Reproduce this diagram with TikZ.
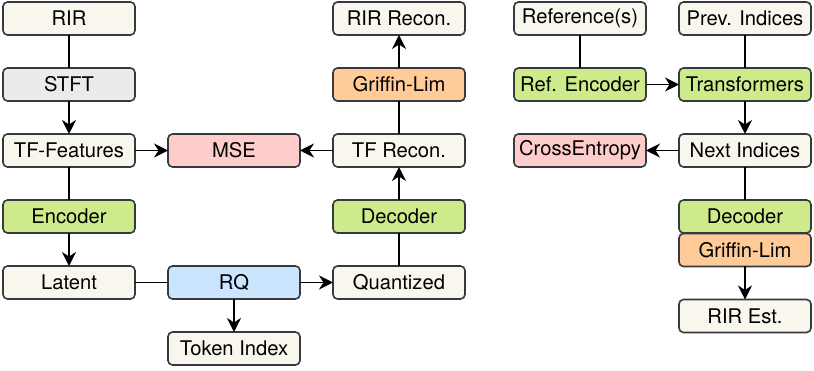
\documentclass[tikz,border=0pt]{standalone}
\usepackage{fontspec}
\setmainfont{TeX Gyre Heros}
\usepackage{xcolor}
\usepackage{tikz}
\usetikzlibrary{positioning,arrows.meta}
\definecolor{edgec}{HTML}{36393D}
\definecolor{cream}{HTML}{F9F7ED}
\definecolor{greyc}{HTML}{EBEBEB}
\definecolor{greenc}{HTML}{CDEB8B}
\definecolor{pinkc}{HTML}{FFCCCC}
\definecolor{orangec}{HTML}{FFCC99}
\definecolor{bluec}{HTML}{CCE5FF}
\tikzset{
  block/.style={rectangle, draw=edgec, fill=cream, rounded corners=4.5pt, line width=1.6pt,
                minimum height=33pt, minimum width=132pt, inner sep=0pt, outer sep=0pt,
                align=center, font=\fontsize{20.2}{22}\selectfont},
  net/.style={block, fill=greenc},
  loss/.style={block, fill=pinkc},
  gl/.style={block, fill=orangec},
  arr/.style={-{Stealth[length=14pt, width=14pt, inset=4.5pt]}, line width=1.7pt, draw=black},
  ln/.style={line width=1.7pt, draw=black},
}

\begin{document}
\begin{tikzpicture}[node distance=33pt and 33pt]
    \useasboundingbox (0,0) rectangle (814pt,-371pt);
    %% --- codec: analysis ---
    \node[block] (rir) at (69pt,-18.5pt) {RIR};
    \node[block, fill=greyc, below=of rir] (stft) {STFT};
    \node[block, below=of stft] (tf) {TF-Features};
    \node[net, below=of tf] (enc) {Encoder};
    \node[block, below=of enc] (lat) {Latent};
    \draw[ln] (rir) -- (stft);
    \draw[arr] (stft) -- (tf);
    \draw[ln] (tf) -- (enc);
    \draw[arr] (enc) -- (lat);

    %% --- codec: quantizer + loss ---
    \node[block, fill=bluec, right=of lat] (rq) {RQ};
    \node[block, below=of rq] (tok) {Token Index};
    \node[loss, right=of tf] (mse) {MSE};
    \draw[ln] (lat) -- (rq);
    \draw[arr] (rq) -- (tok);
    \draw[arr] (tf) -- (mse);

    %% --- codec: synthesis ---
    \node[block, right=of rq] (quant) {Quantized};
    \node[net, above=of quant] (dec) {Decoder};
    \node[block, above=of dec] (tfrec) {TF Recon.};
    \node[gl, above=of tfrec] (glim) {Griffin-Lim};
    \node[block, above=of glim] (rirrec) {RIR Recon.};
    \draw[arr] (rq) -- (quant);
    \draw[ln] (quant) -- (dec);
    \draw[arr] (dec) -- (tfrec);
    \draw[arr] (tfrec) -- (mse);
    \draw[ln] (tfrec) -- (glim);
    \draw[arr] (glim) -- (rirrec);

    %% --- token prediction ---
    \node[block, right=49pt of rirrec] (ref) {Reference(s)};
    \node[net, below=of ref] (refenc) {Ref. Encoder};
    \node[block, right=of ref] (prev) {Prev. Indices};
    \node[net, below=of prev] (trf) {Transformers};
    \node[block, below=of trf] (next) {Next Indices};
    \node[loss, left=of next] (ce) {CrossEntropy};
    \node[net, below=of next] (dec2) {Decoder};
    \node[gl, below=0.5pt of dec2] (glim2) {Griffin-Lim};
    \node[block, below=of glim2] (est) {RIR Est.};
    \draw[ln] (ref) -- (refenc);
    \draw[arr] (refenc) -- (trf);
    \draw[ln] (prev) -- (trf);
    \draw[arr] (trf) -- (next);
    \draw[arr] (next) -- (ce);
    \draw[ln] (next) -- (dec2);
    \draw[arr] (glim2) -- (est);
\end{tikzpicture}
\end{document}
